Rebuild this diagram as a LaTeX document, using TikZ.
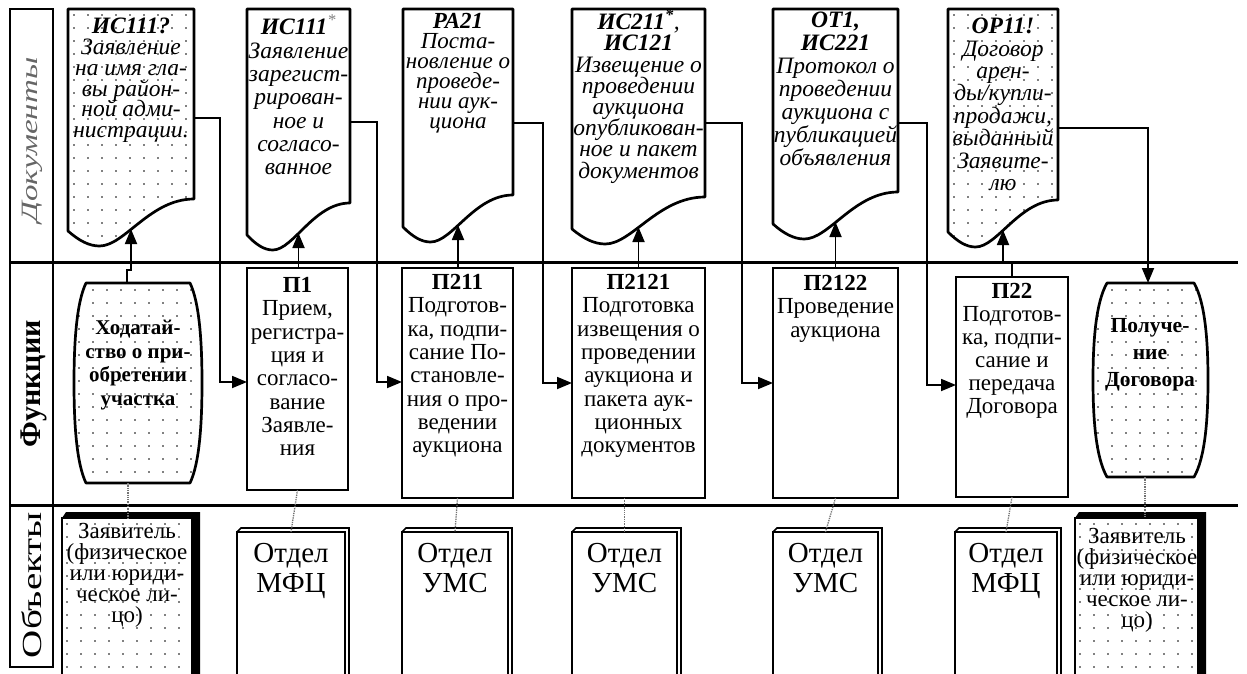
\documentclass[tikz,border=0pt]{standalone}
\usepackage{fontspec}
\usepackage{graphicx}
\setmainfont{Liberation Serif}
\usetikzlibrary{arrows.meta,calc}
\newcommand\tightlines{\lineskiplimit-100pt\relax}

\newcommand\dotgrid[4]{%
  \pgfmathsetmacro\dgxa{#1+14}\pgfmathsetmacro\dgya{#3+13}%
  \foreach \xx in {#1,\dgxa,...,#2}{\foreach \yy in {#3,\dgya,...,#4}{\fill[black] (\xx,\yy) circle[radius=0.9];}}}

% document shape: L R yR dotted tipname
\newcommand\docshape[5]{%
  \pgfmathsetmacro\dL{#1}\pgfmathsetmacro\dR{#2}\pgfmathsetmacro\dw{#2-#1}%
  \pgfmathsetmacro\ca{#1+0.65*\dw}\pgfmathsetmacro\cb{#1+0.45*\dw}%
  \pgfmathsetmacro\cc{#1+0.25*\dw}\pgfmathsetmacro\cd{#1+0.17*\dw}%
  \pgfmathsetmacro\ce{#1+0.09*\dw}\pgfmathsetmacro\yr{#3}%
  \pgfmathsetmacro\yb{#3+47}\pgfmathsetmacro\yc{#3+42}\pgfmathsetmacro\yl{#3+32}%
  \ifnum#4=1
    \begin{scope}
      \clip (\dL,9) -- (\dR,9) -- (\dR,\yr) .. controls (\ca,\yr) and (\cb,\yb) .. (\cc,\yb) .. controls (\cd,\yb) and (\ce,\yc) .. (\dL,\yl) -- cycle;
      \pgfmathsetmacro\gx{#1+6}\pgfmathsetmacro\gxb{#2}%
      \dotgrid{\gx}{\gxb}{15}{\yb}
    \end{scope}
  \fi
  \draw[docl] (\dL,9) -- (\dR,9) -- (\dR,\yr) .. controls (\ca,\yr) and (\cb,\yb) .. (\cc,\yb) .. controls (\cd,\yb) and (\ce,\yc) .. (\dL,\yl) -- cycle;
  \coordinate (#5) at ({#1+0.5*\dw},{#3+30});
}

% barrel: L R T B inset
\newcommand\barrel[5]{%
  \pgfmathsetmacro\bL{#1}\pgfmathsetmacro\bR{#2}\pgfmathsetmacro\bT{#3}\pgfmathsetmacro\bB{#4}%
  \pgfmathsetmacro\bh{#4-#3}\pgfmathsetmacro\bM{(#3+#4)/2}%
  \pgfmathsetmacro\bLi{#1+#5}\pgfmathsetmacro\bRi{#2-#5}%
  \pgfmathsetmacro\bLc{#1+0.2*#5}\pgfmathsetmacro\bRc{#2-0.2*#5}%
  \pgfmathsetmacro\bTa{#3+0.1*\bh}\pgfmathsetmacro\bTb{#3+0.3*\bh}%
  \pgfmathsetmacro\bBa{#4-0.1*\bh}\pgfmathsetmacro\bBb{#4-0.3*\bh}%
  \begin{scope}
    \clip (\bLi,\bT) -- (\bRi,\bT) .. controls (\bRc,\bTa) and (\bR,\bTb) .. (\bR,\bM) .. controls (\bR,\bBb) and (\bRc,\bBa) .. (\bRi,\bB) -- (\bLi,\bB) .. controls (\bLc,\bBa) and (\bL,\bBb) .. (\bL,\bM) .. controls (\bL,\bTb) and (\bLc,\bTa) .. (\bLi,\bT) -- cycle;
    \pgfmathsetmacro\gx{#1+5}\pgfmathsetmacro\gy{#3+7}%
    \dotgrid{\gx}{\bR}{\gy}{\bB}
  \end{scope}
  \draw[docl] (\bLi,\bT) -- (\bRi,\bT) .. controls (\bRc,\bTa) and (\bR,\bTb) .. (\bR,\bM) .. controls (\bR,\bBb) and (\bRc,\bBa) .. (\bRi,\bB) -- (\bLi,\bB) .. controls (\bLc,\bBa) and (\bL,\bBb) .. (\bL,\bM) .. controls (\bL,\bTb) and (\bLc,\bTa) .. (\bLi,\bT) -- cycle;
}

% applicant object: L R(front) top name
\newcommand\applicant[4]{%
  \pgfmathsetmacro\aL{#1}\pgfmathsetmacro\aR{#2}\pgfmathsetmacro\aRR{#2+8}%
  \pgfmathsetmacro\aT{#3}\pgfmathsetmacro\aTi{#3+6}\pgfmathsetmacro\aLb{#1+4}%
  \fill[black] (\aLb,\aT) -- (\aRR,\aT) -- (\aRR,690) -- (\aR,690) -- (\aR,\aTi) -- (\aL,\aTi) -- cycle;
  \begin{scope}
    \clip (\aL,\aTi) rectangle (\aR,690);
    \pgfmathsetmacro\gx{#1+5}\pgfmathsetmacro\gy{#3+12}%
    \dotgrid{\gx}{\aR}{\gy}{680}
  \end{scope}
  \pgfmathsetmacro\aW{#2-#1}%
  \node[draw, line width=1.3pt, inner sep=0pt, outer sep=0pt, minimum width=\aW pt, minimum height=180pt, anchor=north west] (#4) at (\aL,\aTi) {};
}

% department object: center, width, name
\newcommand\dept[3]{%
  \pgfmathsetmacro\oL{#1-#2/2}\pgfmathsetmacro\oR{#1+#2/2}%
  \pgfmathsetmacro\oLb{#1-#2/2+4}\pgfmathsetmacro\oRb{#1+#2/2+4}%
  \draw[line width=1.7pt] (\oL,532) -- (\oLb,528) -- (\oRb,528) -- (\oRb,690);
  \node[draw, fill=white, line width=1.7pt, inner sep=0pt, outer sep=0pt, minimum width=#2 pt, minimum height=180pt, anchor=north] (#3) at (#1,532) {};
}

\begin{document}
\begin{tikzpicture}[x=1pt,y=-1pt,
  lane/.style={line width=3pt},
  docl/.style={line width=2.7pt, line join=round},
  fbox/.style={draw, line width=2.7pt, inner sep=0pt, outer sep=0pt},
  conn/.style={line width=1.8pt},
  arr/.style={conn, -{Triangle[length=15pt,width=12pt]}},
  dotc/.style={line width=1.3pt, black!55, densely dotted},
  doct/.style={align=center, inner sep=0pt},
  funt/.style={align=center, inner sep=0pt},
  objt/.style={align=center, inner sep=0pt, font=\fontsize{23}{21}\selectfont\tightlines},
  otdt/.style={align=center, inner sep=0pt, font=\fontsize{29}{30}\selectfont\tightlines},
  labt/.style={rotate=90, inner sep=0pt},
]
\clip (0,0) rectangle (1247,673);
\fill[white] (0,0) rectangle (1247,673);

% ---------- lanes ----------
\draw[lane] (10,262) -- (1238,262);
\draw[lane] (10,505) -- (1238,505);
\draw[line width=2.6pt] (10,9) rectangle (53,667);
\node[labt, text=black!60, font=\fontsize{30}{30}\selectfont\itshape] (labdoc) at (32,140) {\scalebox{1.1}[0.78]{Документы}};
\node[labt, font=\fontsize{30}{30}\selectfont\bfseries] (labfun) at (34,384) {Функции};
\node[labt, font=\fontsize{30}{30}\selectfont] (labobj) at (32,585) {\scalebox{1.3}[0.92]{Объекты}};

% ---------- documents ----------
\docshape{68}{194}{199}{1}{w1}
\docshape{247}{350}{203}{0}{w2}
\docshape{403}{513}{195}{0}{w3}
\docshape{572}{705}{197}{0}{w4}
\docshape{773}{898}{192}{0}{w5}
\docshape{948}{1058}{200}{1}{w6}

\node[doct, font=\fontsize{23.5}{20.8}\selectfont\tightlines\itshape] (d1) at (131,80.5)
  {\textbf{ИС111?}\\Заявление\\на имя гла-\\вы район-\\ной адми-\\нистрации.};
\node[doct, font=\fontsize{23.5}{23.3}\selectfont\tightlines\itshape] (d2) at (298.5,95)
  {\textbf{ИС111}\textsuperscript{\textcolor{black!50}{*}}\\Заявление\\зарегист-\\рирован-\\ное и\\согласо-\\ванное};
\node[doct, font=\fontsize{23}{20}\selectfont\tightlines\itshape] (d3) at (458,73)
  {\textbf{РА21}\\Поста-\\новление о\\проведе-\\нии аук-\\циона};
\node[doct, font=\fontsize{23.5}{21.2}\selectfont\tightlines\itshape] (d4) at (638.5,96.5)
  {\textbf{ИС211\textsuperscript{*}},\\\textbf{ИС121}\\Извещение о\\проведении\\аукциона\\опубликован-\\ное и пакет\\документов};
\node[doct, font=\fontsize{23.5}{23}\selectfont\tightlines\itshape] (d5) at (835.5,88.5)
  {\textbf{ОТ1,}\\\textbf{ИС221}\\Протокол о\\проведении\\аукциона с\\публикацией\\объявления};
\node[doct, font=\fontsize{23.5}{22.4}\selectfont\tightlines\itshape] (d6) at (1003,104.5)
  {\textbf{ОР11!}\\Договор\\арен-\\ды/купли-\\продажи,\\выданный\\Заявите-\\лю};

% ---------- functions ----------
\barrel{74}{202}{283}{483}{12}
\barrel{1093}{1208}{283}{477}{14}
\coordinate (f0top) at (127,283);
\coordinate (f0bot) at (128,483);
\coordinate (f6top) at (1148,283);
\coordinate (f6bot) at (1145,477);
\node[funt, font=\fontsize{21}{23.5}\selectfont\tightlines\bfseries] (f0) at (138,365)
  {Ходатай-\\ство о при-\\обретении\\участка};
\node[funt, font=\fontsize{21.5}{27}\selectfont\tightlines\bfseries] (f6) at (1150,355)
  {Получе-\\ние\\Договора};

\node[fbox, minimum width=101pt, minimum height=222pt] (p1) at (297.5,379) {};
\node[fbox, minimum width=111pt, minimum height=230pt] (p211) at (457.5,383) {};
\node[fbox, minimum width=133pt, minimum height=230pt] (p2121) at (638.5,383) {};
\node[fbox, minimum width=125pt, minimum height=230pt] (p2122) at (835.5,383) {};
\node[fbox, minimum width=112pt, minimum height=220pt] (p22) at (1012,387) {};

\node[funt, font=\fontsize{23}{23.3}\selectfont\tightlines] (p1t) at (297.5,366.5)
  {\textbf{П1}\\Прием,\\регистра-\\ция и\\согласо-\\вание\\Заявле-\\ния};
\node[funt, font=\fontsize{23}{23.3}\selectfont\tightlines] (p211t) at (457.5,366)
  {\textbf{П211}\\Подготов-\\ка, подпи-\\сание По-\\становле-\\ния о про-\\ведении\\аукциона};
\node[funt, font=\fontsize{23}{23.3}\selectfont\tightlines] (p2121t) at (638.5,366)
  {\textbf{П2121}\\Подготовка\\извещения о\\проведении\\аукциона и\\пакета аук-\\ционных\\документов};
\node[funt, font=\fontsize{23}{23.5}\selectfont\tightlines] (p2122t) at (835.5,308.5)
  {\textbf{П2122}\\Проведение\\аукциона};
\node[funt, font=\fontsize{23}{23}\selectfont\tightlines] (p22t) at (1012,350.5)
  {\textbf{П22}\\Подготов-\\ка, подпи-\\сание и\\передача\\Договора};

% ---------- objects ----------
\applicant{62}{192}{512}{z1}
\applicant{1075}{1198}{512}{z2}
\node[objt] (z1t) at (127,575.5) {Заявитель\\(физическое\\или юриди-\\ческое ли-\\цо)};
\node[objt] (z2t) at (1137,580) {Заявитель\\(физическое\\или юриди-\\ческое ли-\\цо)};

\dept{291}{108}{o2}
\dept{455}{106}{o3}
\dept{624.5}{105}{o4}
\dept{825.5}{105}{o5}
\dept{1006}{102}{o6}
\node[otdt] (o2t) at (291,571) {Отдел\\МФЦ};
\node[otdt] (o3t) at (455,568) {Отдел\\УМС};
\node[otdt] (o4t) at (624.5,568) {Отдел\\УМС};
\node[otdt] (o5t) at (825.5,568) {Отдел\\УМС};
\node[otdt] (o6t) at (1006,571) {Отдел\\МФЦ};

% ---------- connectors: functions -> documents ----------
\draw[arr] (f0top) -- ++(0,-13) -| (w1);
\draw[arr] (p1.north -| w2) -- (w2);
\draw[arr] (p211.north -| w3) -- (w3);
\draw[arr] (p2121.north -| w4) -- (w4);
\draw[arr] (p2122.north -| w5) -- (w5);
\draw[arr] (p22.north) -- ++(0,-15) -| (w6);

% ---------- connectors: documents -> functions ----------
\coordinate (d1r) at (194,118);  \coordinate (k1) at (220,382);
\coordinate (d2r) at (350,122);  \coordinate (k2) at (377,382);
\coordinate (d3r) at (513,123);  \coordinate (k3) at (543,383);
\coordinate (d4r) at (705,123);  \coordinate (k4) at (742,383);
\coordinate (d5r) at (898,123);  \coordinate (k5) at (927,385);
\coordinate (d6r) at (1058,128);
\draw[arr] (d1r) -| (k1) -- (k1 -| p1.west);
\draw[arr] (d2r) -| (k2) -- (k2 -| p211.west);
\draw[arr] (d3r) -| (k3) -- (k3 -| p2121.west);
\draw[arr] (d4r) -| (k4) -- (k4 -| p2122.west);
\draw[arr] (d5r) -| (k5) -- (k5 -| p22.west);
\draw[arr] (d6r) -| (f6top);

% ---------- connectors: functions - objects ----------
\draw[dotc] (f0bot) -- (z1.north -| f0bot);
\draw[dotc] (p1.south) -- (o2.north);
\draw[dotc] (p211.south) -- (o3.north);
\draw[dotc] (p2121.south -| o4.north) -- (o4.north);
\draw[dotc] (p2122.south) -- (o5.north);
\draw[dotc] (p22.south) -- (o6.north);
\draw[dotc] (f6bot) -- (z2.north -| f6bot);
\end{tikzpicture}
\end{document}
